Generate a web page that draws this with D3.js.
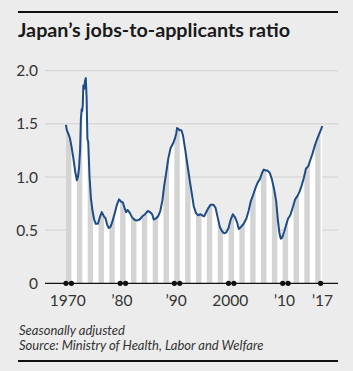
<!DOCTYPE html>
<html><head><meta charset="utf-8">
<script src="https://cdn.jsdelivr.net/npm/d3@7"></script>
<style>
html,body{margin:0;padding:0;background:#ececec;}
svg{display:block;font-family:Lato,"Open Sans",sans-serif;}
</style></head>
<body>
<svg id="chart" width="353" height="371"></svg>
<script>
const titleText = "Japan\u2019s jobs-to-applicants ratio";
const noteLines = ["Seasonally adjusted", "Source: Ministry of Health, Labor and Welfare"];
const yTicks = [0, 0.5, 1.0, 1.5, 2.0];
const yTickLabels = ["0", "0.5", "1.0", "1.5", "2.0"];
const xTickYears = [1970, 1980, 1990, 2000, 2010, 2017];
const xTickLabels = ["1970", "\u201980", "\u201990", "2000", "\u201910", "\u201917"];
const dotYears = [1970, 1971, 1980, 1981, 1990, 1991, 2000, 2001, 2010, 2011, 2017];
const times = [1970.0,1970.15,1970.4,1970.7,1971.0,1971.35,1971.7,1972.0,1972.2,1972.4,1972.6,1972.75,1972.9,1973.0,1973.1,1973.2,1973.35,1973.5,1973.65,1973.8,1973.95,1974.1,1974.35,1974.6,1974.9,1975.2,1975.5,1975.9,1976.3,1976.6,1977.0,1977.3,1977.6,1977.9,1978.2,1978.5,1979.0,1979.4,1979.8,1980.1,1980.5,1980.8,1981.1,1981.4,1981.8,1982.2,1982.6,1983.0,1983.6,1984.1,1984.6,1985.1,1985.5,1985.9,1986.2,1986.6,1987.0,1987.4,1987.8,1988.1,1988.5,1988.9,1989.3,1989.8,1990.1,1990.35,1990.5,1990.8,1991.0,1991.3,1991.6,1992.0,1992.4,1992.8,1993.2,1993.6,1994.0,1994.4,1994.8,1995.1,1995.5,1995.9,1996.3,1996.7,1997.2,1997.6,1998.0,1998.4,1998.8,1999.2,1999.6,2000.0,2000.4,2000.8,2001.2,2001.6,2001.9,2002.3,2002.8,2003.3,2003.7,2004.1,2004.6,2005.0,2005.4,2005.8,2006.2,2006.5,2006.9,2007.2,2007.6,2008.0,2008.4,2008.8,2009.1,2009.4,2009.65,2009.9,2010.3,2010.7,2011.0,2011.4,2011.9,2012.3,2012.7,2013.1,2013.5,2013.9,2014.3,2014.7,2015.1,2015.5,2015.9,2016.3,2016.7,2017.1,2017.3];
const ratio = [1.49,1.44,1.41,1.37,1.29,1.18,1.05,0.97,1.00,1.08,1.25,1.55,1.64,1.62,1.68,1.86,1.83,1.90,1.93,1.75,1.36,1.33,1.00,0.80,0.68,0.60,0.56,0.56,0.63,0.67,0.63,0.61,0.55,0.52,0.53,0.57,0.66,0.74,0.79,0.77,0.76,0.71,0.67,0.69,0.66,0.62,0.60,0.59,0.60,0.63,0.65,0.68,0.67,0.65,0.60,0.61,0.63,0.68,0.78,0.91,1.04,1.18,1.27,1.32,1.36,1.41,1.46,1.45,1.44,1.44,1.39,1.26,1.12,0.98,0.85,0.72,0.66,0.64,0.65,0.64,0.63,0.67,0.71,0.74,0.74,0.71,0.62,0.53,0.49,0.47,0.48,0.52,0.60,0.65,0.62,0.57,0.51,0.53,0.56,0.61,0.68,0.77,0.84,0.90,0.95,0.98,1.04,1.07,1.06,1.06,1.04,0.98,0.89,0.77,0.60,0.47,0.42,0.43,0.49,0.56,0.61,0.64,0.72,0.79,0.82,0.86,0.92,0.99,1.08,1.10,1.16,1.22,1.29,1.35,1.40,1.45,1.48];

const data = times.map((t, i) => ({t, v: ratio[i]}));
const svg = d3.select("#chart");
const x = d3.scaleLinear().domain([1970, 2010]).range([66, 282.7]);
const y = d3.scaleLinear().domain([0, 2]).range([283.3, 70.7]);
const left = 45, right = 338;

// rules
svg.append("rect").attr("x", 18).attr("y", 11).attr("width", 320).attr("height", 2).attr("fill", "#111");
svg.append("rect").attr("x", 18).attr("y", 360).attr("width", 320).attr("height", 2).attr("fill", "#111");
svg.append("text").attr("x", 18).attr("y", 37).text(titleText)
  .attr("font-size", 19.5).attr("font-weight", "bold").attr("fill", "#1a1a1a")
  .attr("textLength", 272).attr("lengthAdjust", "spacingAndGlyphs");

// gridlines
svg.append("g").selectAll("line").data(yTicks.filter(d => d > 0)).join("line")
  .attr("x1", left).attr("x2", right).attr("y1", d => y(d)).attr("y2", d => y(d))
  .attr("stroke", "#d0d0d0").attr("stroke-width", 1);
svg.append("g").selectAll("text").data(yTicks).join("text")
  .attr("x", 38).attr("y", d => y(d) + 5.5).attr("text-anchor", "end")
  .attr("font-size", 15.5).attr("fill", "#333").text((d, i) => yTickLabels[i]);

// area with stripes
const area = d3.area().x(d => x(d.t)).y0(y(0)).y1(d => y(d.v));
svg.append("clipPath").attr("id", "clipA").append("path").attr("d", area(data));
svg.append("path").attr("d", area(data)).attr("fill", "#ffffff");
const evenYears = d3.range(1970, 2018, 2);
svg.append("g").attr("clip-path", "url(#clipA)").selectAll("rect").data(evenYears).join("rect")
  .attr("x", d => x(d)).attr("width", d => x(d + 1) - x(d))
  .attr("y", y(2.1)).attr("height", y(0) - y(2.1)).attr("fill", "#d4d4d4");

// line
svg.append("path").datum(data)
  .attr("d", d3.line().x(d => x(d.t)).y(d => y(d.v)))
  .attr("fill", "none").attr("stroke", "#1d4c86").attr("stroke-width", 2)
  .attr("stroke-linejoin", "round");

// zero axis
svg.append("line").attr("x1", left).attr("x2", right).attr("y1", y(0)).attr("y2", y(0))
  .attr("stroke", "#111").attr("stroke-width", 1.2);
svg.append("g").selectAll("circle").data(dotYears).join("circle")
  .attr("cx", d => x(d)).attr("cy", y(0)).attr("r", 2.6).attr("fill", "#111");
svg.append("g").selectAll("text").data(xTickYears).join("text")
  .attr("x", d => x(d + 0.5) - 1).attr("y", 305.5).attr("text-anchor", "middle")
  .attr("font-size", 15.5).attr("fill", "#333").text((d, i) => xTickLabels[i]);

// notes
svg.append("g").selectAll("text").data(noteLines).join("text")
  .attr("x", 19).attr("y", (d, i) => 334.5 + i * 15.5)
  .attr("font-size", 13).attr("font-style", "italic").attr("fill", "#333").text(d => d);
</script>
</body></html>
